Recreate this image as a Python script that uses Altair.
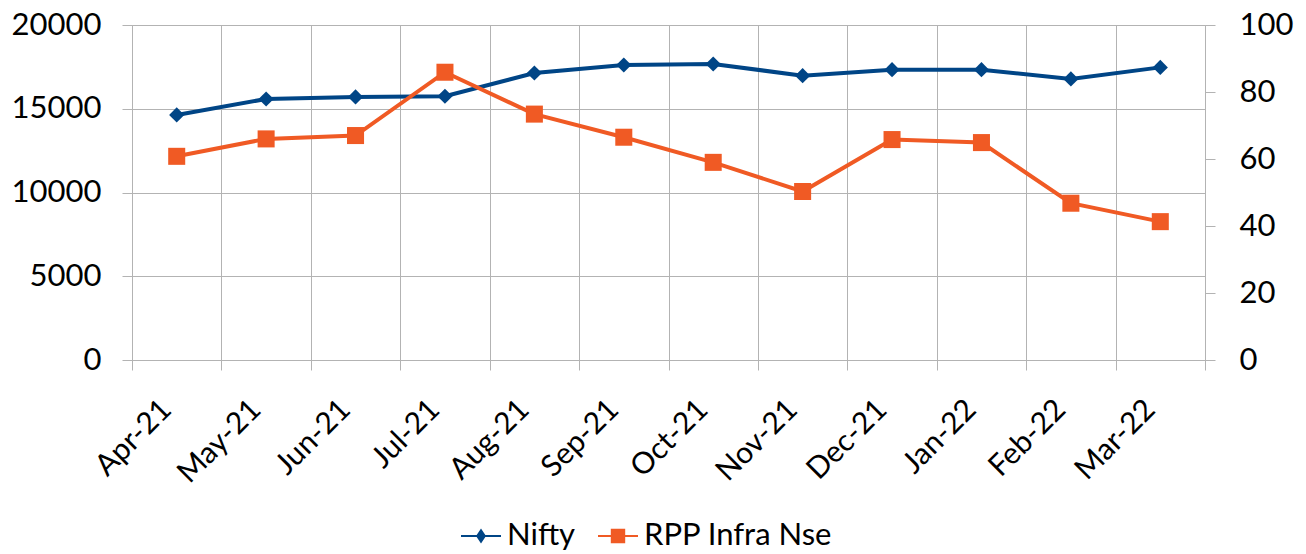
import altair as alt
import pandas as pd

months = ["Apr-21", "May-21", "Jun-21", "Jul-21", "Aug-21", "Sep-21",
          "Oct-21", "Nov-21", "Dec-21", "Jan-22", "Feb-22", "Mar-22"]
nifty = [14631, 15583, 15705, 15745, 17132, 17612,
         17672, 16975, 17335, 17335, 16780, 17470]
rpp = [60.8, 66.0, 67.0, 85.9, 73.4, 66.5,
       59.0, 50.3, 65.8, 64.9, 46.8, 41.3]

series_names = ["Nifty", "RPP Infra Nse"]
colors = ["#004586", "#f05a24"]

rows = []
for m, v in zip(months, nifty):
    rows.append({"month": m, "series": "Nifty", "value": v})
for m, v in zip(months, rpp):
    rows.append({"month": m, "series": "RPP Infra Nse", "value": v})
df = pd.DataFrame(rows)

FONT = "Lato"
GRID = "#b3b3b3"

x_enc = alt.X("month:N", sort=months, title=None,
              scale=alt.Scale(paddingInner=0, paddingOuter=0),
              axis=alt.Axis(labelAngle=-45, labelAlign="right", labelBaseline="top",
                            labelFontSize=30, labelFont=FONT, labelColor="#000000",
                            labelPadding=24, labelOffset=-21, tickBand="extent", tickSize=10,
                            tickColor=GRID, grid=True, gridColor=GRID,
                            domainColor=GRID, labelOverlap=False))

# legend symbols: a thin line with the marker on it
NIFTY_SYM = ("M-1,-0.05L1,-0.05L1,0.05L-1,0.05Z"
             "M-0.25,0L0,-0.38L0.25,0L0,0.38Z")
RPP_SYM = ("M-1,-0.05L1,-0.05L1,0.05L-1,0.05Z"
           "M-0.36,-0.36L0.36,-0.36L0.36,0.36L-0.36,0.36Z")

legend = alt.Legend(
    title=None, orient="none", direction="horizontal",
    legendX=329, legendY=491, labelFontSize=31, labelFont=FONT,
    labelColor="#000000", labelLimit=400, symbolSize=1600,
    columnPadding=22, labelOffset=6, symbolOpacity=1, symbolStrokeWidth=0)

color_enc = alt.Color("series:N", scale=alt.Scale(domain=series_names, range=colors),
                      legend=legend)
shape_enc = alt.Shape("series:N", scale=alt.Scale(domain=series_names, range=[NIFTY_SYM, RPP_SYM]),
                      legend=legend)

left_y = alt.Y("value:Q", title=None,
               scale=alt.Scale(domain=[0, 20000], nice=False),
               axis=alt.Axis(orient="left", values=[0, 5000, 10000, 15000, 20000],
                             format="d", labelFontSize=31, labelFont=FONT,
                             labelColor="#000000", tickSize=10, tickColor=GRID,
                             domainColor=GRID, grid=True, gridColor=GRID,
                             labelPadding=21))
right_y = alt.Y("value:Q", title=None,
                scale=alt.Scale(domain=[0, 100], nice=False),
                axis=alt.Axis(orient="right", values=[0, 20, 40, 60, 80, 100],
                              format="d", labelFontSize=31, labelFont=FONT,
                              labelColor="#000000", tickSize=10, tickColor=GRID,
                              domainColor=GRID, grid=False, labelPadding=24))

base = alt.Chart(df)
nifty_data = base.transform_filter(alt.datum.series == "Nifty")
rpp_data = base.transform_filter(alt.datum.series == "RPP Infra Nse")

n_line = nifty_data.mark_line(strokeWidth=4).encode(x=x_enc, y=left_y, color=color_enc)
n_pts = nifty_data.mark_point(filled=True, size=230, opacity=1, shape="diamond").encode(
    x=x_enc, y=left_y, color=color_enc)
legend_only = base.transform_filter("false").mark_point(filled=True, opacity=1).encode(
    x=x_enc, y=left_y, color=color_enc, shape=shape_enc)
r_line = rpp_data.mark_line(strokeWidth=4).encode(x=x_enc, y=right_y, color=color_enc)
r_pts = rpp_data.mark_point(filled=True, size=290, opacity=1, shape="square").encode(
    x=x_enc, y=right_y, color=color_enc)

left = alt.layer(n_line, n_pts, legend_only)
right = alt.layer(r_line, r_pts)

chart = alt.layer(left, right).resolve_scale(y="independent").properties(
    width=1073, height=335,
    autosize=alt.AutoSizeParams(type="none"),
    padding={"left": 124, "top": 17, "right": 93, "bottom": 193},
).configure_view(stroke=None).configure(font=FONT)

chart.save("out.html", embed_options={"renderer": "svg", "actions": False})
